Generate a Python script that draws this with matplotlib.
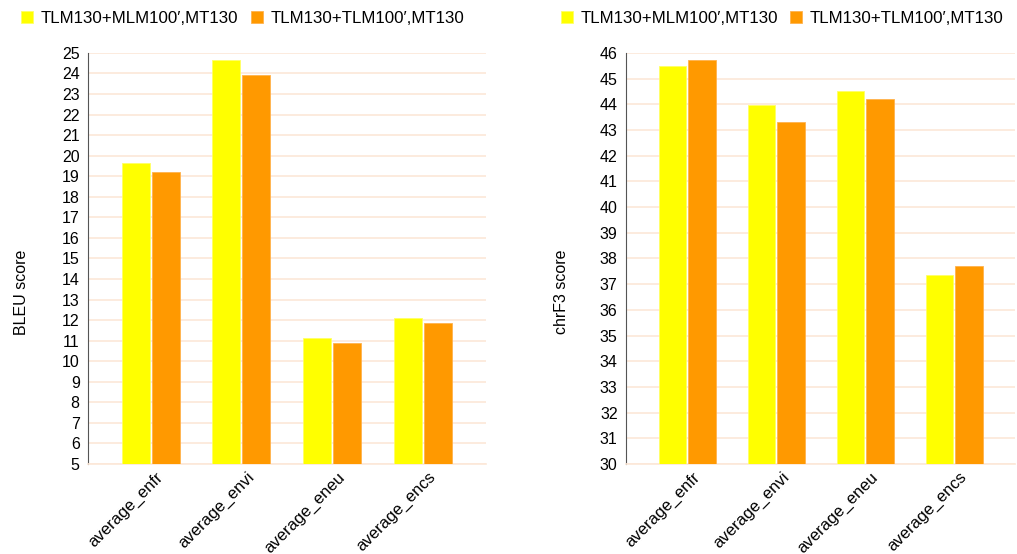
import numpy as np
import matplotlib
matplotlib.use("Agg")
import matplotlib.pyplot as plt
from matplotlib.transforms import ScaledTranslation

plt.rcParams['font.family'] = ['Liberation Sans', 'DejaVu Sans']

# Data
#-----------------------------------
categories = ["average_enfr", "average_envi", "average_eneu", "average_encs"]
series_names = ["TLM130+MLM100\u2032,MT130", "TLM130+TLM100\u2032,MT130"]

bleu_mlm = [19.65, 24.66, 11.15, 12.10]
bleu_tlm = [19.22, 23.94, 10.87, 11.85]

chrf_mlm = [45.49, 43.96, 44.52, 37.36]
chrf_tlm = [45.72, 43.31, 44.21, 37.72]

colors = ["#FFFF00", "#FF9900"]
grid_color = "#FCE8D8"


def draw_panel(fig, ax, vals_a, vals_b, ymin, ymax, ylabel, label_x):
    x = np.arange(len(categories))
    w = 0.31
    ax.bar(x - w/2 - 0.01, vals_a, w, color=colors[0], edgecolor="#FFFF66",
           linewidth=0.6, label=series_names[0], zorder=3)
    ax.bar(x + w/2 + 0.01, vals_b, w, color=colors[1], edgecolor="#FFB24D",
           linewidth=0.6, label=series_names[1], zorder=3)
    ax.set_xlim(-0.69, 3.69)
    ax.set_ylim(ymin, ymax)
    ax.set_yticks(np.arange(ymin, ymax + 1, 1))
    ax.yaxis.grid(True, color=grid_color, linewidth=1.2, zorder=0)
    ax.set_axisbelow(True)
    for s in ["top", "right"]:
        ax.spines[s].set_visible(False)
    ax.spines["bottom"].set_color(grid_color)
    ax.spines["bottom"].set_linewidth(1.2)
    ax.spines["left"].set_color("#555555")
    ax.tick_params(axis="y", length=0, labelsize=11.5, pad=6)
    ax.tick_params(axis="x", length=0, labelsize=12, pad=4)
    ax.set_xticks(x)
    ax.set_xticklabels(categories, rotation=45, ha="right", rotation_mode="anchor")
    shift = ScaledTranslation(5/100, 0, fig.dpi_scale_trans)
    for lbl in ax.get_xticklabels():
        lbl.set_transform(lbl.get_transform() + shift)
    ax.set_ylabel(ylabel, fontsize=11.5)
    ax.yaxis.set_label_coords(label_x, 0.418)
    ax.legend(loc="lower left", bbox_to_anchor=(-0.185, 1.05), ncol=2, frameon=False,
              fontsize=12.2, handlelength=0.7, handleheight=0.7, handletextpad=0.45,
              columnspacing=0.75, borderaxespad=0)


fig = plt.figure(figsize=(10.17, 5.54), dpi=100)
ax1 = fig.add_axes([0.0865, 0.1625, 0.391, 0.742])
ax2 = fig.add_axes([0.6155, 0.1625, 0.383, 0.742])

draw_panel(fig, ax1, bleu_mlm, bleu_tlm, 5, 25, "BLEU score", -0.149)
draw_panel(fig, ax2, chrf_mlm, chrf_tlm, 30, 46, "chrF3 score", -0.147)

fig.savefig("out.png", dpi=100)
